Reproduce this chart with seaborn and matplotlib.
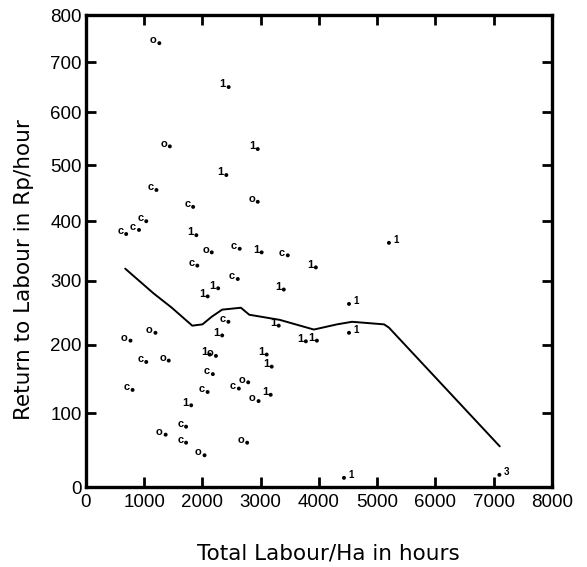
import numpy as np
import pandas as pd
import seaborn as sns
import matplotlib.pyplot as plt

# scatter points: hours per ha, return per hour, printed label, label side
hours = [1260, 2450, 1440, 2950, 2410, 1210, 2950, 1840, 690, 910,
         1035, 1895, 2160, 2640, 3017, 3466, 1912, 3948, 5203, 2607,
         2090, 2270, 3397, 4517, 2446, 2339, 3310, 764, 1193, 3776,
         3966, 4517, 2125, 2232, 1035, 1421, 3103, 3190, 2179, 800,
         2089, 2625, 2786, 3172, 2964, 1807, 1719, 1368, 1719, 2768,
         2036, 4431, 7100]
returns = [740, 650, 535, 530, 482, 455, 434, 425, 378, 385,
           400, 376, 347, 353, 347, 342, 325, 322, 363, 303,
           275, 288, 286, 263, 235, 214, 229, 206, 218, 205,
           206, 218, 185, 183, 174, 176, 185, 167, 156, 133,
           130, 135, 144, 126, 117, 111, 81, 70, 59, 59,
           42, 12, 16]
labels = ["o", "1", "o", "1", "1", "c", "o", "c", "c", "c",
          "c", "1", "o", "c", "1", "c", "c", "1", "1", "c",
          "1", "1", "1", "1", "c", "1", "1", "o", "o", "1",
          "1", "1", "1", "o", "c", "o", "1", "1", "c", "c",
          "c", "c", "o", "1", "o", "1", "c", "o", "c", "o",
          "o", "1", "3"]
right_side = [False] * 18 + [True] + [False] * 4 + [True] + [False] * 7 + \
             [True] + [False] * 19 + [True, True]

# smoothed trend line
line_hours = [673, 1158, 1474, 1825, 2000, 2161, 2339, 2661, 2804, 3328,
              3914, 4310, 4569, 5120, 5203, 7107]
line_returns = [320, 280, 257, 229, 231, 243, 254, 257, 246, 238,
                223, 231, 235, 231, 226, 54]

pts = pd.DataFrame({"hours": hours, "ret": returns, "label": labels,
                    "right": right_side})
trend = pd.DataFrame({"hours": line_hours, "ret": line_returns})

sns.set_style("ticks")
plt.rcParams["font.family"] = ["Liberation Sans", "DejaVu Sans"]
plt.rcParams["text.color"] = "black"
plt.rcParams["axes.labelcolor"] = "black"

fig = plt.figure(figsize=(5.87, 5.67), dpi=100)
ax = fig.add_axes([0.1465, 0.141, 0.7935, 0.8325])

# the printed y axis is compressed towards the top
c = 1200.0
ax.set_yscale("function", functions=(lambda v: np.log(np.clip(v, -c + 1, None) + c),
                                     lambda v: np.exp(v) - c))

sns.lineplot(data=trend, x="hours", y="ret", color="black", linewidth=1.4,
             sort=False, ax=ax)
sns.scatterplot(data=pts, x="hours", y="ret", color="black", s=8,
                edgecolor="none", ax=ax)

for _, r in pts.iterrows():
    if r["right"]:
        ax.annotate(r["label"], (r["hours"], r["ret"]), xytext=(3, 2),
                    textcoords="offset points", ha="left", va="center",
                    fontsize=7, fontweight="bold")
    else:
        ax.annotate(r["label"], (r["hours"], r["ret"]), xytext=(-2, 2),
                    textcoords="offset points", ha="right", va="center",
                    fontsize=8, fontweight="bold")

ax.set_xlim(0, 8000)
ax.set_ylim(0, 800)
ax.set_xticks(range(0, 8001, 1000))
ax.set_yticks(range(0, 801, 100))
ax.tick_params(direction="in", length=7, width=2, top=True, right=True,
               labelsize=13.5, colors="black")
ax.tick_params(axis="x", pad=5)
ax.tick_params(axis="y", pad=3)
for s in ax.spines.values():
    s.set_linewidth(2.4)
    s.set_color("black")

ax.set_xlabel("Total Labour/Ha in hours", fontsize=15.5, family="DejaVu Sans")
ax.set_ylabel("Return to Labour in Rp/hour", fontsize=15.5, family="DejaVu Sans")
ax.xaxis.set_label_coords(0.52, -0.12)
ax.yaxis.set_label_coords(-0.112, 0.46)

plt.savefig("out.png", dpi=100)
